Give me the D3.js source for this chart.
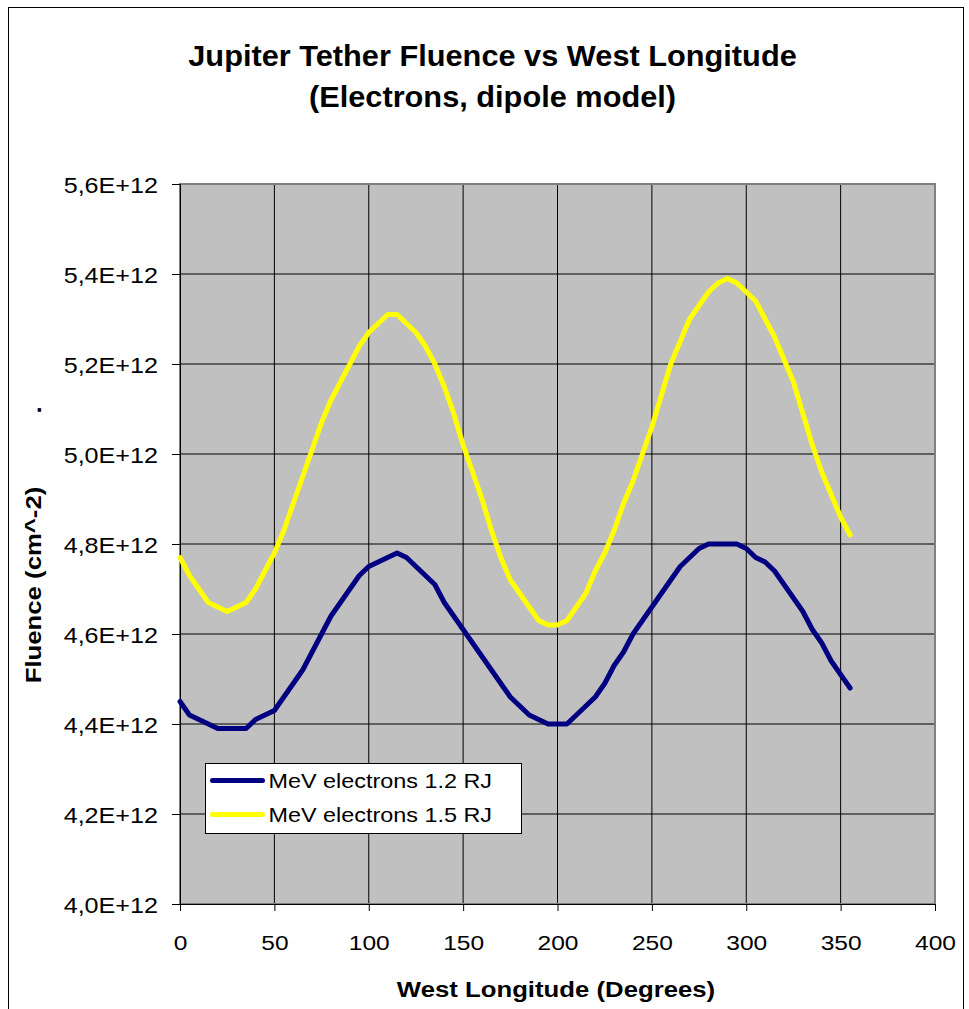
<!DOCTYPE html>
<html>
<head>
<meta charset="utf-8">
<script src="https://cdn.jsdelivr.net/npm/d3@7"></script>
<style>
  html, body { margin: 0; padding: 0; background: #ffffff; }
  svg { display: block; }
  text { font-family: Arial, "Liberation Sans", sans-serif; fill: #000; }
</style>
</head>
<body>
<svg id="chart" width="969" height="1009"></svg>
<script>
// West longitude (degrees)
const longitude = [0, 5, 10, 15, 20, 25, 30, 35, 40, 45, 50, 55, 60, 65, 70, 75, 80, 85, 90, 95,
  100, 105, 110, 115, 120, 125, 130, 135, 140, 145, 150, 155, 160, 165, 170, 175, 180, 185, 190, 195,
  200, 205, 210, 215, 220, 225, 230, 235, 240, 245, 250, 255, 260, 265, 270, 275, 280, 285, 290, 295,
  300, 305, 310, 315, 320, 325, 330, 335, 340, 345, 350, 355];

// Fluence in units of 1E+12 cm^-2
const fluence12 = [4.45, 4.42, 4.41, 4.40, 4.39, 4.39, 4.39, 4.39, 4.41, 4.42, 4.43, 4.46, 4.49, 4.52, 4.56, 4.60, 4.64, 4.67, 4.70, 4.73,
  4.75, 4.76, 4.77, 4.78, 4.77, 4.75, 4.73, 4.71, 4.67, 4.64, 4.61, 4.58, 4.55, 4.52, 4.49, 4.46, 4.44, 4.42, 4.41, 4.40,
  4.40, 4.40, 4.42, 4.44, 4.46, 4.49, 4.53, 4.56, 4.60, 4.63, 4.66, 4.69, 4.72, 4.75, 4.77, 4.79, 4.80, 4.80, 4.80, 4.80,
  4.79, 4.77, 4.76, 4.74, 4.71, 4.68, 4.65, 4.61, 4.58, 4.54, 4.51, 4.48];

const fluence15 = [4.77, 4.73, 4.70, 4.67, 4.66, 4.65, 4.66, 4.67, 4.70, 4.74, 4.78, 4.83, 4.89, 4.95, 5.01, 5.07, 5.12, 5.16, 5.20, 5.24,
  5.27, 5.29, 5.31, 5.31, 5.29, 5.27, 5.24, 5.20, 5.15, 5.09, 5.02, 4.96, 4.90, 4.83, 4.77, 4.72, 4.69, 4.66, 4.63, 4.62,
  4.62, 4.63, 4.66, 4.69, 4.74, 4.78, 4.83, 4.89, 4.94, 5.00, 5.06, 5.13, 5.20, 5.25, 5.30, 5.33, 5.36, 5.38, 5.39, 5.38,
  5.36, 5.34, 5.30, 5.26, 5.21, 5.16, 5.09, 5.02, 4.96, 4.91, 4.86, 4.82];

const seriesNames = ["MeV electrons 1.2 RJ", "MeV electrons 1.5 RJ"];
const seriesColors = ["#000080", "#ffff00"];

const xTicks = [0, 50, 100, 150, 200, 250, 300, 350, 400];
const yTicks = [4.0, 4.2, 4.4, 4.6, 4.8, 5.0, 5.2, 5.4, 5.6];

const titleLines = ["Jupiter Tether Fluence vs West Longitude", "(Electrons, dipole model)"];
const xTitle = "West Longitude (Degrees)";
const yTitle = "Fluence (cm^-2)";

// ---- layout ----
const plot = { left: 180, top: 184, right: 935, bottom: 904 };
const WIDE = 1.17; // horizontal widening applied to the labels

const svg = d3.select("#chart");

const x = d3.scaleLinear().domain([0, 400]).range([plot.left, plot.right]);
const y = d3.scaleLinear().domain([4.0, 5.6]).range([plot.bottom, plot.top]);

// outer chart frame
svg.append("rect")
  .attr("x", 8.5).attr("y", 7.5).attr("width", 955).attr("height", 1020)
  .attr("fill", "#fff").attr("stroke", "#000").attr("stroke-width", 1);

// plot background
svg.append("rect")
  .attr("x", plot.left).attr("y", plot.top)
  .attr("width", plot.right - plot.left).attr("height", plot.bottom - plot.top)
  .attr("fill", "#c0c0c0");

// gridlines
const grid = svg.append("g").attr("stroke", "#000").attr("stroke-width", 1);
grid.selectAll("line.h").data(yTicks.slice(1, -1)).join("line")
  .attr("x1", plot.left).attr("x2", plot.right)
  .attr("y1", d => y(d)).attr("y2", d => y(d));
grid.selectAll("line.v").data(xTicks.slice(1, -1)).join("line")
  .attr("y1", plot.top).attr("y2", plot.bottom)
  .attr("x1", d => x(d)).attr("x2", d => x(d));

// plot frame
svg.append("rect")
  .attr("x", plot.left).attr("y", plot.top)
  .attr("width", plot.right - plot.left).attr("height", plot.bottom - plot.top)
  .attr("fill", "none").attr("stroke", "#808080").attr("stroke-width", 2);

// axes
const yAxis = d3.axisLeft(y).tickValues(yTicks).tickSize(8).tickPadding(14)
  .tickFormat(d => d.toFixed(1).replace(".", ",") + "E+12");
const xAxis = d3.axisBottom(x).tickValues(xTicks).tickSize(7).tickPadding(14)
  .tickFormat(d3.format("d"));

const gy = svg.append("g").attr("transform", `translate(${plot.left},0)`).call(yAxis);
const gx = svg.append("g").attr("transform", `translate(0,${plot.bottom})`).call(xAxis);
[gy, gx].forEach(g => {
  g.select(".domain").attr("stroke", "#000").attr("stroke-width", 1);
  g.selectAll(".tick line").attr("stroke", "#000");
  g.selectAll(".tick text").attr("font-family", "Arial, 'Liberation Sans', sans-serif").attr("fill", "#000");
});
gy.selectAll(".tick text")
  .attr("font-size", 21.5)
  .attr("dy", null).attr("y", 8).attr("x", 0)
  .attr("transform", `translate(-22,0) scale(${WIDE},1)`);
gx.selectAll(".tick text")
  .attr("font-size", 21)
  .attr("dy", null)
  .attr("y", 0)
  .attr("transform", `translate(0,46) scale(${WIDE},1)`);

// series lines
const line = d3.line().x((d, i) => x(longitude[i])).y(d => y(d));
[fluence12, fluence15].forEach((vals, k) => {
  svg.append("path")
    .datum(vals)
    .attr("d", line)
    .attr("fill", "none")
    .attr("stroke", seriesColors[k])
    .attr("stroke-width", 5)
    .attr("stroke-linejoin", "round")
    .attr("stroke-linecap", "round");
});

// helper: widened text
function label(txt, px, py, size, opts = {}) {
  const rot = opts.rotate ? ` rotate(${opts.rotate})` : "";
  const sx = opts.wide || WIDE;
  return svg.append("text")
    .attr("transform", `translate(${px},${py})${rot} scale(${sx},1)`)
    .attr("text-anchor", opts.anchor || "middle")
    .attr("font-size", size)
    .attr("font-weight", opts.bold ? "bold" : "normal")
    .text(txt);
}

// title
label(titleLines[0], 492.5, 66, 29, { bold: true, wide: 1.06 });
label(titleLines[1], 492.5, 107, 29, { bold: true, wide: 1.06 });

// axis titles
label(xTitle, 556, 997, 22, { bold: true });
label(yTitle, 41, 585, 22, { bold: true, rotate: -90 });
label(".", 41, 410, 22, { bold: true, rotate: -90 });

// legend
const lg = { x: 205.5, y: 763.5, w: 316, h: 70 };
svg.append("rect")
  .attr("x", lg.x).attr("y", lg.y).attr("width", lg.w).attr("height", lg.h)
  .attr("fill", "#fff").attr("stroke", "#000").attr("stroke-width", 1);
seriesNames.forEach((name, k) => {
  const cy = lg.y + 17 + k * 34;
  svg.append("line")
    .attr("x1", lg.x + 7).attr("x2", lg.x + 57)
    .attr("y1", cy).attr("y2", cy)
    .attr("stroke", seriesColors[k]).attr("stroke-width", 5)
    .attr("stroke-linecap", "round");
  label(name, lg.x + 63, cy + 7, 20, { anchor: "start" });
});
</script>
</body>
</html>
